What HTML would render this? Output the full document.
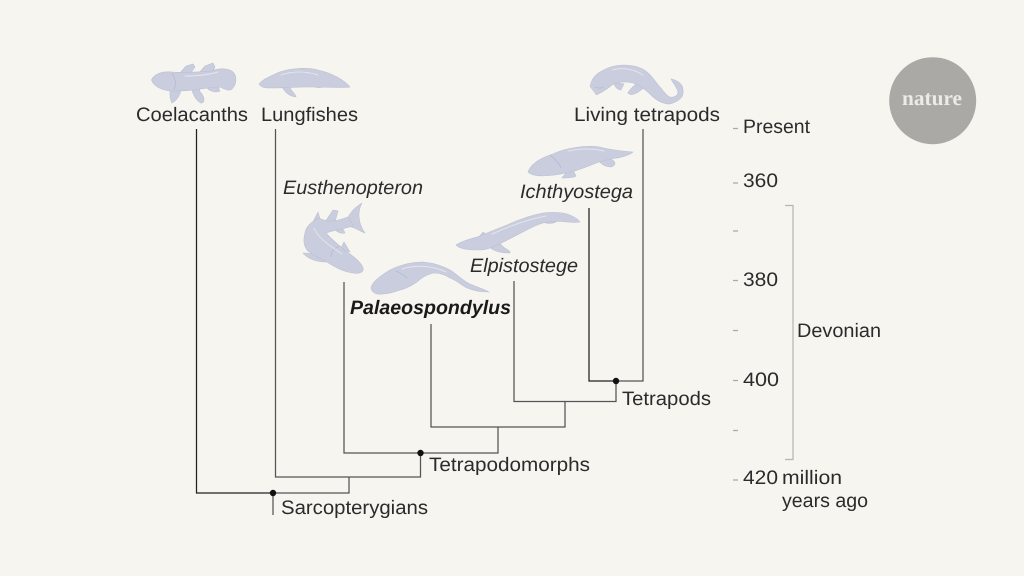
<!DOCTYPE html>
<html><head><meta charset="utf-8"><style>
html,body{margin:0;padding:0;background:#f6f5ef}
svg{display:block}
text{font-family:"Liberation Sans",sans-serif;font-size:19.5px;fill:#2b2b2b}
.i{font-style:italic}
.a{fill:#c9cddd;stroke:#bcc1d3;stroke-width:.6}
.h{fill:none;stroke:#e3e5ee;stroke-width:1;stroke-linecap:round}
.d{fill:none;stroke:#aeb3c8;stroke-width:.6}
.l{fill:none;stroke:#555;stroke-width:1.25}
.k{fill:none;stroke:#222;stroke-width:1.25}
.t{stroke:#aaa;stroke-width:1.2}
</style></head><body>
<svg width="1024" height="576" viewBox="0 0 1024 576" xmlns="http://www.w3.org/2000/svg" text-rendering="geometricPrecision">
<rect width="1024" height="576" fill="#f6f5ef"/>

<!-- tree -->
<path class="k" d="M196.500 129V493H273"/>
<path class="l" d="M273 493H349V477"/>
<path class="l" d="M275.500 129V477H420.500V453"/>
<path class="l" d="M344 282V453H420.500"/>
<path class="l" d="M420.500 453H498V427"/>
<path class="l" d="M431 324V427H565V401.500"/>
<path class="l" d="M514 281V401.500H616V381"/>
<path class="k" d="M589 208V381H616"/>
<path class="l" d="M616 381H643V129"/>
<path class="l" d="M273 493V515"/>
<circle cx="273" cy="493" r="3.200" fill="#111"/>
<circle cx="420.500" cy="453" r="3.200" fill="#111"/>
<circle cx="616" cy="381" r="3.200" fill="#111"/>

<!-- coelacanth -->
<path class="a" d="M180 73L186 66 193 64 195 67 190 74ZM199 73L205 66 213 63 215 67 212 73Z"/>
<path class="a" d="M171 86C169 92 170 99 172 103 176 101 181 95 181 88ZM191 87C193 94 195 100 201 103 206 103 204 95 200 92L199 87ZM205 86C210 92 216 93 220 91L217 85Z"/>
<path class="a" d="M151.500 80C154 74 162 71 172 72 185 73 197 72 212 71 219 68 229 68 233 72 237 76 237 84 232 89 228 92 224 88 219 87 208 87 195 91 178 91 164 92 154 87 151.500 80Z"/>
<path class="d" d="M172 73C176 79 176 85 174 90"/>
<path class="h" d="M185 76C197 76 208 75 218 72"/>

<!-- lungfish -->
<path class="a" d="M281 85C284 91 288 96 296 97 296 94 291 92 289 85ZM311 85C315 88 320 88 323 87L318 83Z"/>
<path class="a" d="M259 84C263 79 269 77 275 74 287 68 305 67 318 70 332 73 344 80 350 87 348 88 330 87 312 87 295 87 280 88 268 88 263 88 260 86 259 84Z"/>
<path class="h" d="M281 75C292 71 306 71 318 75"/>

<!-- living tetrapod -->
<path class="a" d="M613 82C615 87 618 90 621 90L624 84ZM638 82C634 86 628 91 628 93 631 96 636 95 647 85Z"/>
<path class="a" d="M590 87C591 80 595 75 600 72 608 67 615 65 623 65 633 65 641 67 647 72 653 77 656 83 660 87 664 92 667 96 670 97 675 98 678 95 678 92 677 87 673 83 671 79 677 80 683 84 683 90 684 96 680 101 670 104 662 104 655 99 651 95 646 90 641 86 633 83 625 81 617 82 612 85 607 89 603 92 596 95 591 92 590 87Z"/>
<path class="d" d="M595 87C597 88 601 89 603 87"/>
<path class="h" d="M612 70C622 67 634 69 643 75"/>

<!-- ichthyostega -->
<path class="a" d="M568 170C566 174 563 176 562 178 567 178 573 178 576 176L572 168ZM598 160C601 164 605 167 611 167 617 165 616 161 609 158Z"/>
<path class="a" d="M528 172C531 164 540 158 553 154 565 148 585 145 600 147 610 150 622 151 633 152 626 158 612 158 602 161 590 165 578 171 566 173 552 176 534 178 528 172Z"/>
<path class="d" d="M550 155C556 160 560 165 561 168"/>
<path class="h" d="M568 151C578 149 592 148 604 151"/>

<!-- eusthenopteron -->
<path class="a" d="M346 226C346 216 354 208 362 203 358 210 357 222 365 233 358 230 352 226 346 226ZM313 222L318 212 321 222ZM325 222L333 210 338 211 335 222ZM333 228C337 232 341 234 345 233L342 227ZM340 250L344 242 350 252ZM303 253C310 253 320 254 327 262 320 262 310 261 303 253Z"/>
<path class="a" d="M318 218C312 222 306 226 305 233 303 240 304 246 307 250 312 255 320 258 327 262 336 268 345 272 353 273 360 274 364 272 363 268 362 264 355 257 347 252 341 247 333 241 326 233 334 230 344 229 353 226 351 222 350 218 348 217 340 220 333 222 327 221Z"/>
<path class="d" d="M331 257C331 252 334 248 340 246"/>
<path class="h" d="M314 228C318 238 330 246 342 254"/>

<!-- elpistostege -->
<path class="a" d="M488 245C491 250 498 253 510 253 511 250 503 249 500 243ZM542 222C548 224 552 224 556 222L550 219ZM479 237L483 232 487 235Z"/>
<path class="a" d="M456 245C462 241 470 239 477 237 487 233 497 229 507 225 520 219 532 215 543 213 552 212 560 212 567 214 573 216 578 219 580 222 575 223 571 222 567 222 559 221 551 221 543 223 536 225 530 228 523 232 515 236 506 241 497 245 491 248 486 250 480 250 472 250 461 250 456 245Z"/>
<path class="h" d="M492 234C505 228 525 220 546 216"/>

<!-- palaeospondylus -->
<path class="a" d="M371 288C372 282 380 276 390 270 402 264 412 262 423 262 434 263 443 266 450 270 458 275 463 281 470 284 477 287 484 289 489 292 482 292 474 291 467 288 461 285 456 280 450 278 444 274 438 273 433 273 426 275 421 278 417 282 411 286 405 289 400 290 394 292 389 294 383 294 377 295 372 293 371 288Z"/>
<path class="d" d="M396 271C402 274 405 276 407 278"/>
<path class="h" d="M402 269C415 265 432 265 446 272"/>

<!-- labels -->
<text x="136" y="121" textLength="112" lengthAdjust="spacingAndGlyphs">Coelacanths</text>
<text x="261" y="121" textLength="97" lengthAdjust="spacingAndGlyphs">Lungfishes</text>
<text x="574" y="121" textLength="146" lengthAdjust="spacingAndGlyphs">Living tetrapods</text>
<text class="i" x="283" y="194" textLength="140" lengthAdjust="spacingAndGlyphs">Eusthenopteron</text>
<text class="i" x="520" y="198" textLength="113" lengthAdjust="spacingAndGlyphs">Ichthyostega</text>
<text class="i" x="470" y="272" textLength="108" lengthAdjust="spacingAndGlyphs">Elpistostege</text>
<text class="i" x="350" y="314" textLength="161" lengthAdjust="spacingAndGlyphs" style="font-weight:bold;fill:#1a1a1a">Palaeospondylus</text>
<text x="622" y="405" textLength="89" lengthAdjust="spacingAndGlyphs">Tetrapods</text>
<text x="429" y="471" textLength="161" lengthAdjust="spacingAndGlyphs">Tetrapodomorphs</text>
<text x="281" y="514" textLength="147" lengthAdjust="spacingAndGlyphs">Sarcopterygians</text>

<!-- time axis -->
<path class="t" d="M733 128.500H738M733 183H738M733 231H738M733 280.500H738M733 330.500H738M733 380.500H738M733 430.500H738M733 480H738"/>
<text x="743" y="133" textLength="67" lengthAdjust="spacingAndGlyphs">Present</text>
<text x="743" y="187" textLength="35" lengthAdjust="spacingAndGlyphs">360</text>
<text x="743" y="286" textLength="35" lengthAdjust="spacingAndGlyphs">380</text>
<text x="743" y="386" textLength="36" lengthAdjust="spacingAndGlyphs">400</text>
<text x="743" y="484" textLength="35" lengthAdjust="spacingAndGlyphs">420</text>
<text x="782" y="484" textLength="60" lengthAdjust="spacingAndGlyphs">million</text>
<text x="782" y="507" textLength="86" lengthAdjust="spacingAndGlyphs">years ago</text>
<text x="797" y="337" textLength="84" lengthAdjust="spacingAndGlyphs">Devonian</text>
<path d="M785 205.500H793V459.500H785" fill="none" stroke="#b5b5b0" stroke-width="1.200"/>

<!-- logo -->
<circle cx="932.700" cy="100.700" r="43.500" fill="#aaa9a5"/>
<text x="902" y="105" textLength="60" lengthAdjust="spacingAndGlyphs" style="font-family:'Liberation Serif',serif;font-size:21px;font-weight:bold;fill:#ecebe6">nature</text>
</svg>
</body></html>
